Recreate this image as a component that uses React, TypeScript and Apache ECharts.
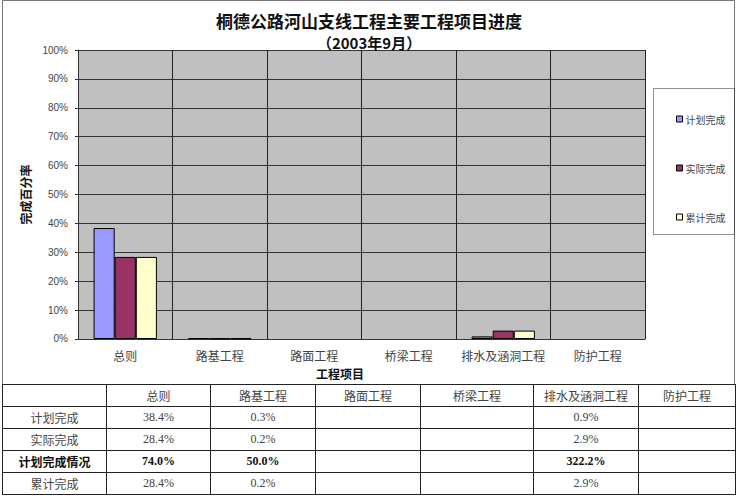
import * as echarts from 'echarts';
import { useEffect, useRef } from 'react';

// 工程项目
const categories = ['总则', '路基工程', '路面工程', '桥梁工程', '排水及涵洞工程', '防护工程'];
// 完成百分率 (%), null = 表中空白
const planned = [38.4, 0.3, null, null, 0.9, null];
const actual = [28.4, 0.2, null, null, 2.9, null];
const cumulative = [28.4, 0.2, null, null, 2.9, null];
const ratio = [74.0, 50.0, null, null, 322.2, null];

const seriesNames = ['计划完成', '实际完成', '累计完成'];
const seriesColors = ['#9999FF', '#993366', '#FFFFCC'];

const cjk = '"Noto Sans CJK SC", sans-serif';
const colWidths = [104, 104, 105, 105, 113, 105, 97];

const fmt = (v: number | null) => (v === null ? '' : v.toFixed(1) + '%');

export default function App() {
  const chartRef = useRef<HTMLDivElement>(null);

  useEffect(() => {
    if (!chartRef.current) return;
    const chart = echarts.init(chartRef.current, null, { renderer: 'svg' });
    const option = {
      animation: false,
      backgroundColor: '#fff',
      title: [
        {
          text: '桐德公路河山支线工程主要工程项目进度',
          left: 364,
          top: 7,
          textAlign: 'center',
          textStyle: { fontFamily: cjk, fontSize: 17, fontWeight: 'bold', color: '#111' },
        },
        {
          text: '（2003年9月）',
          left: 364,
          top: 30,
          textAlign: 'center',
          textStyle: { fontFamily: cjk, fontSize: 15, fontWeight: 'bold', color: '#111' },
        },
      ],
      legend: {
        data: seriesNames,
        orient: 'vertical',
        left: 671,
        top: 107,
        itemGap: 35,
        itemWidth: 6,
        itemHeight: 6,
        icon: 'rect',
        itemStyle: { borderColor: '#000', borderWidth: 1 },
        selectedMode: false,
        textStyle: { fontFamily: cjk, fontSize: 10, color: '#444', lineHeight: 14, padding: [0, 0, 0, -2] },
      },
      graphic: [
        {
          type: 'rect',
          shape: { x: 2.5, y: 0.5, width: 732, height: 390 },
          style: { fill: 'none', stroke: '#777', lineWidth: 1 },
          silent: true,
        },
        {
          type: 'rect',
          shape: { x: 653.5, y: 88.5, width: 81, height: 146 },
          style: { fill: 'none', stroke: '#222', lineWidth: 1, lineDash: [1, 1] },
          silent: true,
        },
      ],
      grid: {
        left: 78,
        right: 94,
        top: 50,
        bottom: 45,
        show: true,
        backgroundColor: '#C0C0C0',
        borderWidth: 0,
      },
      xAxis: {
        type: 'category',
        data: categories,
        name: '工程项目',
        nameLocation: 'middle',
        nameGap: 28,
        nameTextStyle: {
          fontFamily: cjk,
          fontSize: 12,
          fontWeight: 'bold',
          color: '#111',
          padding: [0, 43, 0, 0],
        },
        axisLine: { show: true, lineStyle: { color: '#333', width: 1 } },
        axisTick: { show: false },
        axisLabel: { interval: 0, fontFamily: cjk, fontSize: 12, color: '#444', margin: 10 },
        splitLine: { show: true, interval: 0, lineStyle: { color: '#222', width: 1 } },
      },
      yAxis: {
        type: 'value',
        min: 0,
        max: 100,
        interval: 10,
        name: '完成百分率',
        nameLocation: 'middle',
        nameGap: 44,
        nameTextStyle: { fontFamily: cjk, fontSize: 12, fontWeight: 'bold', color: '#111' },
        axisLine: { show: true, lineStyle: { color: '#333', width: 1 } },
        axisTick: { show: true, length: 3, lineStyle: { color: '#333' } },
        axisLabel: {
          formatter: '{value}%',
          fontFamily: '"Liberation Sans", Arial, sans-serif',
          fontSize: 10,
          color: '#444',
          margin: 10,
        },
        splitLine: { show: true, lineStyle: { color: '#333', width: 1 } },
      },
      series: [planned, actual, cumulative].map((values, i) => ({
        name: seriesNames[i],
        type: 'bar',
        data: values,
        barGap: '0%',
        barCategoryGap: '33%',
        itemStyle: { color: seriesColors[i], borderColor: '#000', borderWidth: 1 },
      })),
    };
    chart.setOption(option);
    return () => {
      chart.dispose();
    };
  }, []);

  const cell: React.CSSProperties = {
    border: '1px solid #222',
    textAlign: 'center',
    padding: 0,
    height: 21,
    fontSize: 12,
    color: '#444',
    fontFamily: '"Liberation Serif", "Noto Sans CJK SC", serif',
    whiteSpace: 'nowrap',
    overflow: 'hidden',
  };
  const bold: React.CSSProperties = { ...cell, fontWeight: 'bold', color: '#111' };

  const rows: { label: string; values: (number | null)[]; strong?: boolean }[] = [
    { label: '计划完成', values: planned },
    { label: '实际完成', values: actual },
    { label: '计划完成情况', values: ratio, strong: true },
    { label: '累计完成', values: cumulative },
  ];

  return (
    <div style={{ position: 'absolute', left: 0, top: 0, width: 739, height: 500, background: '#fff', overflow: 'hidden' }}>
      <div ref={chartRef} style={{ position: 'absolute', left: 0, top: 0, width: 739, height: 384 }} />
      <table
        style={{
          position: 'absolute',
          left: 2,
          top: 384,
          width: 733,
          borderCollapse: 'collapse',
          tableLayout: 'fixed',
        }}
      >
        <colgroup>
          {colWidths.map((w, i) => (
            <col key={i} style={{ width: w }} />
          ))}
        </colgroup>
        <tbody>
          <tr>
            <td style={cell}></td>
            {categories.map((c) => (
              <td key={c} style={cell}>
                {c}
              </td>
            ))}
          </tr>
          {rows.map((r) => (
            <tr key={r.label}>
              <td style={r.strong ? bold : cell}>{r.label}</td>
              {r.values.map((v, i) => (
                <td key={i} style={r.strong ? bold : cell}>
                  {fmt(v)}
                </td>
              ))}
            </tr>
          ))}
        </tbody>
      </table>
    </div>
  );
}
